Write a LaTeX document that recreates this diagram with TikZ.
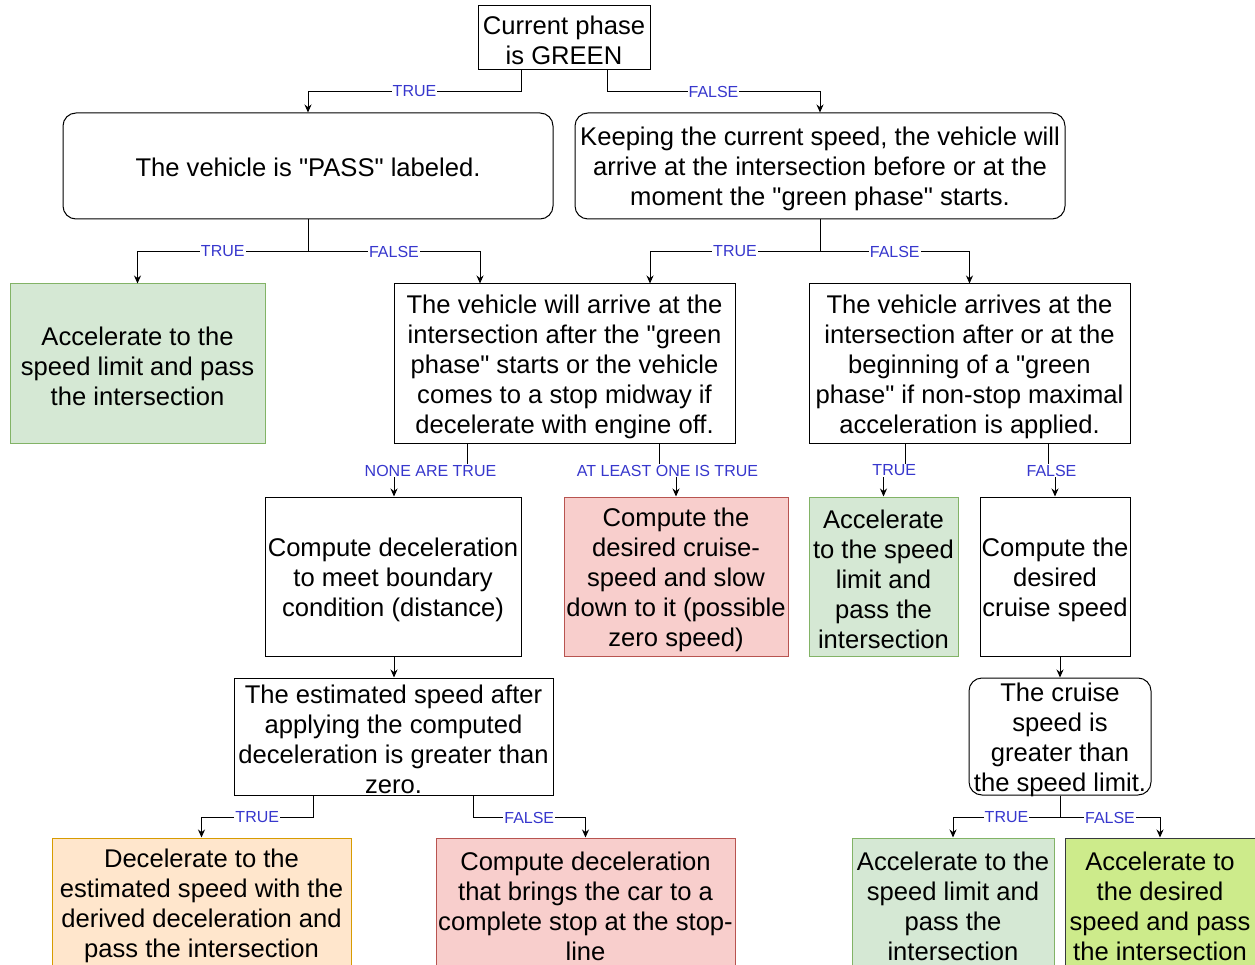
\documentclass[tikz,border=0pt]{standalone}
\usepackage{fontspec}
\setmainfont{Liberation Sans}[Ligatures=TeXOff]
\usetikzlibrary{arrows.meta}
\definecolor{gfill}{HTML}{D5E8D4}\definecolor{gdraw}{HTML}{82B366}
\definecolor{rfill}{HTML}{F8CECC}\definecolor{rdraw}{HTML}{B85450}
\definecolor{ofill}{HTML}{FFE6CC}\definecolor{odraw}{HTML}{D79B00}
\definecolor{lfill}{HTML}{CDEB8B}\definecolor{ldraw}{HTML}{36393D}
\definecolor{lblue}{RGB}{55,55,205}
\tikzset{
  box/.style={draw=black, line width=1pt, fill=white, inner sep=0pt},
  boxtext/.style={align=center, inner sep=0pt, font=\fontsize{25.6}{30}\selectfont},
  rbox/.style={box, rounded corners=13pt},
  greenbox/.style={box, fill=gfill, draw=gdraw},
  redbox/.style={box, fill=rfill, draw=rdraw},
  orangebox/.style={box, fill=ofill, draw=odraw},
  limebox/.style={box, fill=lfill, draw=ldraw},
  arr/.style={draw=black, line width=1pt, -{Stealth[length=8pt,width=7pt]}},
  lbl/.style={fill=white, text=lblue, inner sep=1pt, font=\fontsize{16}{18}\selectfont},
}
\newcommand{\mknode}[5][-3pt]{\node[#2, label={[boxtext, yshift=#1]center:{#5}}] (#3) at #4 {};}
\begin{document}
\begin{tikzpicture}[x=1pt,y=-1pt]
\useasboundingbox (0,0) rectangle (1255,965);
\clip (0,0) rectangle (1255,965);
\fill[white] (0,0) rectangle (1255,965);

\mknode[-2pt]{box, minimum width=172pt, minimum height=64pt}{b1}{(564,38)}{Current phase\\is GREEN}
\mknode[-1pt]{rbox, minimum width=490pt, minimum height=106pt}{b2}{(308,166)}{The vehicle is "PASS" labeled.}
\mknode{rbox, minimum width=490pt, minimum height=106pt}{b3}{(820,166)}{Keeping the current speed, the vehicle will\\arrive at the intersection before or at the\\moment the "green phase" starts.}
\mknode{greenbox, minimum width=255pt, minimum height=159pt}{b4}{(137.5,363.5)}{Accelerate to the\\speed limit and pass\\the intersection}
\mknode{box, minimum width=341pt, minimum height=159pt}{b5}{(564.5,363.5)}{The vehicle will arrive at the\\intersection after the "green\\phase" starts or the vehicle\\comes to a stop midway if\\decelerate with engine off.}
\mknode{box, minimum width=321pt, minimum height=159pt}{b6}{(969.5,363.5)}{The vehicle arrives at the\\intersection after or at the\\beginning of a "green\\phase" if non-stop maximal\\acceleration is applied.}
\mknode{box, minimum width=256pt, minimum height=159pt}{b7}{(393,576.5)}{Compute deceleration\\to meet boundary\\condition (distance)}
\mknode{redbox, minimum width=224pt, minimum height=159pt}{b8}{(676,576.5)}{Compute the\\desired cruise-\\speed and slow\\down to it (possible\\zero speed)}
\mknode{greenbox, minimum width=149pt, minimum height=159pt}{b9}{(883.5,576.5)}{Accelerate\\to the speed\\limit and\\pass the\\intersection}
\mknode{box, minimum width=150pt, minimum height=159pt}{b10}{(1055,576.5)}{Compute the\\desired\\cruise speed}
\mknode{box, minimum width=319pt, minimum height=117pt}{b11}{(393.5,736.5)}{The estimated speed after\\applying the computed\\deceleration is greater than\\zero.}
\mknode{rbox, minimum width=182pt, minimum height=117pt}{b12}{(1060,736.5)}{The cruise\\speed is\\greater than\\the speed limit.}
\mknode{orangebox, minimum width=299pt, minimum height=130pt}{b13}{(201.5,903)}{Decelerate to the\\estimated speed with the\\derived deceleration and\\pass the intersection}
\mknode{redbox, minimum width=299pt, minimum height=130pt}{b14}{(585.5,903)}{Compute deceleration\\that brings the car to a\\complete stop at the stop-\\line}
\mknode{greenbox, minimum width=202pt, minimum height=130pt}{b15}{(953,903)}{Accelerate to the\\speed limit and\\pass the\\intersection}
\mknode{limebox, minimum width=190pt, minimum height=130pt}{b16}{(1160,903)}{Accelerate to\\the desired\\speed and pass\\the intersection}

\draw[arr] ([xshift=-43pt]b1.south) -- ++(0,21) -| node[lbl,pos=0.25]{TRUE} (b2.north);
\draw[arr] ([xshift=43pt]b1.south) -- ++(0,21) -| node[lbl,pos=0.25]{FALSE} (b3.north);
\draw[arr] (b2.south) -- ++(0,32) -| node[lbl,pos=0.25]{TRUE} (b4.north);
\draw[arr] (b2.south) -- ++(0,32) -| node[lbl,pos=0.25]{FALSE} ([xshift=-84.5pt]b5.north);
\draw[arr] (b3.south) -- ++(0,32) -| node[lbl,pos=0.25]{TRUE} ([xshift=85.5pt]b5.north);
\draw[arr] (b3.south) -- ++(0,32) -| node[lbl,pos=0.25]{FALSE} (b6.north);
\draw[arr] ([xshift=-97.5pt]b5.south) -- ++(0,27) -| node[lbl,pos=0.25]{NONE ARE TRUE} ([xshift=1pt]b7.north);
\draw[arr] ([xshift=94.5pt]b5.south) -- ++(0,27) -| node[lbl,pos=0.25]{AT LEAST ONE IS TRUE} (b8.north);
\draw[arr] ([xshift=-64.5pt]b6.south) -- ++(0,27) -| node[lbl,pos=0.25]{TRUE} (b9.north);
\draw[arr] ([xshift=78.5pt]b6.south) -- ++(0,27) -| node[lbl,pos=0.25]{FALSE} (b10.north);
\draw[arr] ([xshift=1pt]b7.south) -- ([xshift=0.5pt]b11.north);
\draw[arr] ([xshift=5pt]b10.south) -- (b12.north);
\draw[arr] ([xshift=-80.5pt]b11.south) -- ++(0,22) -| node[lbl,pos=0.25]{TRUE} (b13.north);
\draw[arr] ([xshift=79.5pt]b11.south) -- ++(0,22) -| node[lbl,pos=0.25]{FALSE} (b14.north);
\draw[arr] (b12.south) -- ++(0,22) -| node[lbl,pos=0.25]{TRUE} (b15.north);
\draw[arr] (b12.south) -- ++(0,22) -| node[lbl,pos=0.25]{FALSE} (b16.north);
\end{tikzpicture}
\end{document}
